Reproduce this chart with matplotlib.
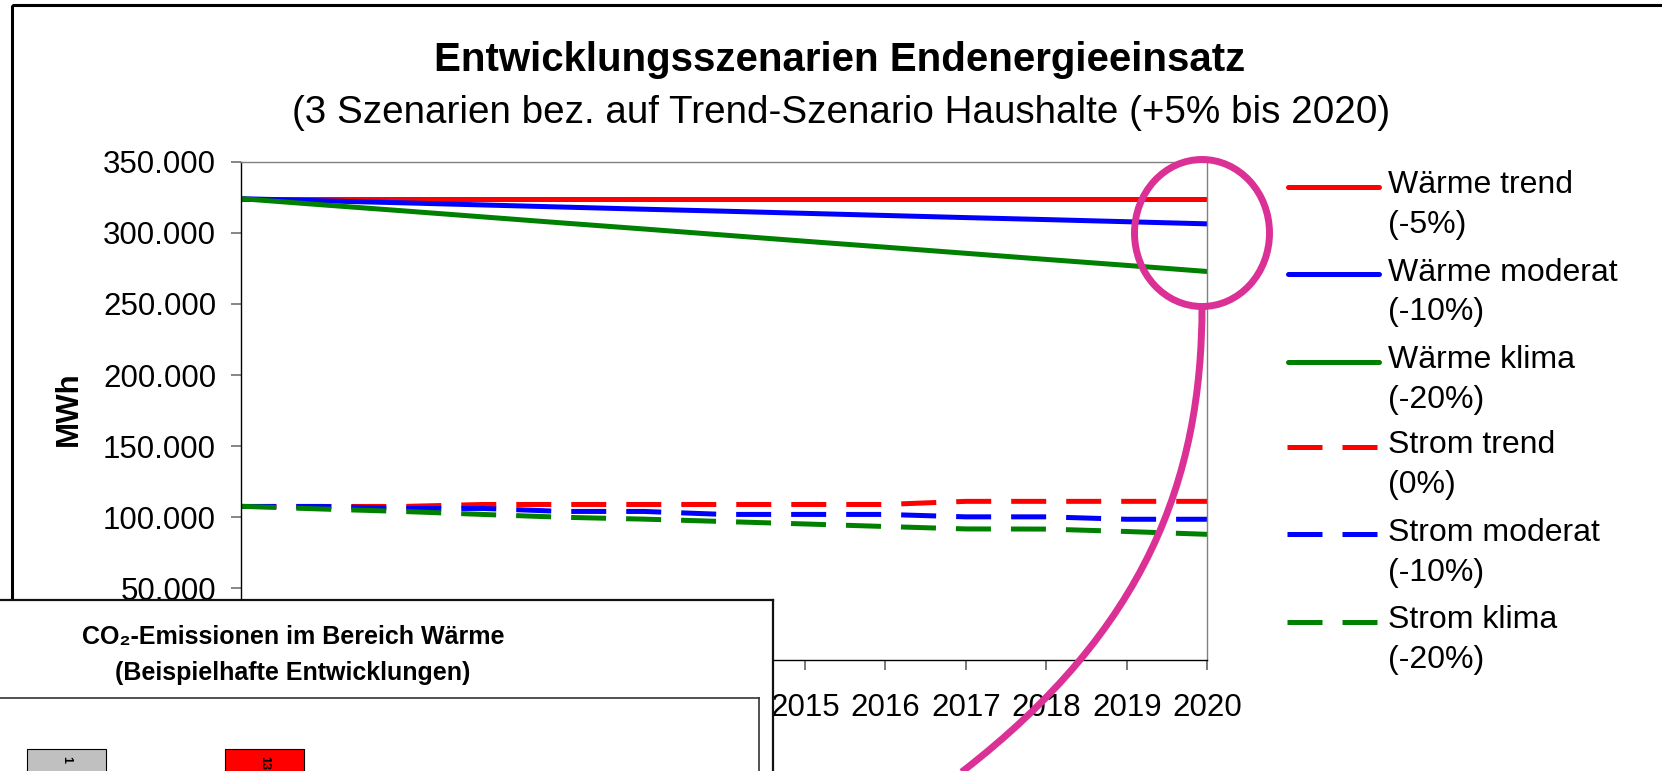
import matplotlib
matplotlib.use("Agg")
import matplotlib.pyplot as plt
from matplotlib.transforms import Affine2D
from matplotlib.patches import Rectangle, Ellipse, PathPatch
from matplotlib.path import Path
from matplotlib.lines import Line2D

plt.rcParams['font.family'] = ['Liberation Sans', 'DejaVu Sans']

# ---------------- data ----------------
years = [2008, 2009, 2010, 2011, 2012, 2013, 2014, 2015, 2016, 2017, 2018, 2019, 2020]
year_labels = [str(y) for y in years]

waerme_trend = [324000, 324000, 324000, 324000, 324000, 324000, 324000,
                324000, 324000, 324000, 324000, 324000, 324000]
waerme_moderat = [324000, 322500, 321100, 319600, 318100, 316600, 315200,
                  313700, 312200, 310700, 309300, 307800, 306300]
waerme_klima = [324000, 319700, 315500, 311200, 306900, 302700, 298400,
                294100, 289900, 285600, 281300, 277100, 272800]
strom_trend = [107600, 107600, 107600, 109000, 109000, 109000, 109000,
               109000, 109000, 111200, 111200, 111200, 111200]
strom_moderat = [107600, 107600, 106200, 106200, 104100, 104100, 102000,
                 102000, 102000, 100300, 100300, 98600, 98600]
strom_klima = [107700, 105800, 104100, 102000, 100000, 98700, 97000,
               95300, 93500, 91800, 91700, 90000, 88000]

series_names = ["Wärme trend", "Wärme moderat", "Wärme klima",
                "Strom trend", "Strom moderat", "Strom klima"]
series_pct = ["(-5%)", "(-10%)", "(-20%)", "(0%)", "(-10%)", "(-20%)"]
series_colors = ["#FF0000", "#0000FF", "#008000", "#FF0000", "#0000FF", "#008000"]
series_dashed = [False, False, False, True, True, True]

ytick_values = [0, 50000, 100000, 150000, 200000, 250000, 300000, 350000]
ytick_labels = ["0", "50.000", "100.000", "150.000", "200.000", "250.000",
                "300.000", "350.000"]

title = "Entwicklungsszenarien Endenergieeinsatz"
subtitle = "(3 Szenarien bez. auf Trend-Szenario Haushalte (+5% bis 2020)"
ylabel = "MWh"

# inset (cropped second chart)
inset_title1 = "CO₂-Emissionen im Bereich Wärme"
inset_title2 = "(Beispielhafte Entwicklungen)"
co2_positions = [0, 1]
co2_values = [74.5, 74.5]
co2_colors = ["#C0C0C0", "#FF0000"]
co2_labels = ["1", "13"]

# ---------------- figure ----------------
W, H = 1662, 771
fig = plt.figure(figsize=(W / 100, H / 100), dpi=100)
fig.patch.set_facecolor("white")
pix = Affine2D().scale(1.0 / W, -1.0 / H).translate(0, 1) + fig.transFigure


def fbox(x0, y0, x1, y1):
    """pixel box (top-left origin) -> figure fraction rect"""
    return [x0 / W, (H - y1) / H, (x1 - x0) / W, (y1 - y0) / H]


# main axes
ax = fig.add_axes(fbox(241.3, 161.7, 1207.3, 659.5), zorder=1)
series = [waerme_trend, waerme_moderat, waerme_klima,
          strom_trend, strom_moderat, strom_klima]
for vals, col, dashed in zip(series, series_colors, series_dashed):
    if dashed:
        ax.plot(years, vals, color=col, lw=3.6, dashes=(7, 4),
                dash_capstyle="butt")
    else:
        ax.plot(years, vals, color=col, lw=3.6, solid_capstyle="round")

ax.set_xlim(years[0], years[-1])
ax.set_ylim(ytick_values[0], ytick_values[-1])
ax.set_xticks(years)
ax.set_xticklabels(year_labels)
ax.set_yticks(ytick_values)
ax.set_yticklabels(ytick_labels)
ax.tick_params(axis="y", direction="out", length=6.9, width=1.1,
               color="#666666", pad=11.3, labelsize=22.5)
ax.tick_params(axis="x", direction="out", length=7.2, width=1.1,
               color="#555555", pad=17.0, labelsize=22.5)
for s in ("left", "bottom"):
    ax.spines[s].set_color("black")
    ax.spines[s].set_linewidth(1.0)
for s in ("top", "right"):
    ax.spines[s].set_color("#808080")
    ax.spines[s].set_linewidth(1.0)
ax.set_ylabel(ylabel, fontsize=22.5, fontweight="bold", va="center",
              ha="center", rotation=90)
ax.yaxis.set_label_coords((68.5 - 241.3) / 966.0, (659.5 - 409.0) / 497.8)

# titles
fig.text(840, 71, title, transform=pix, ha="center", va="baseline",
         fontsize=29, fontweight="bold")
fig.text(841, 123, subtitle, transform=pix, ha="center", va="baseline",
         fontsize=27.8)

# outer chart border
fig.add_artist(Rectangle((11.7, 5), 1700, 900, transform=pix, fill=False,
                         edgecolor="black", lw=2.2, zorder=2))

# legend (manual)
leg_y = [186.6, 273.8, 361.7, 446.6, 534.1, 621.7]
for i in range(6):
    y = leg_y[i]
    if series_dashed[i]:
        ln = Line2D([1287, 1377], [y, y], transform=pix, color=series_colors[i],
                    lw=3.6, dashes=(7, 4), dash_capstyle="butt", zorder=3)
    else:
        ln = Line2D([1288, 1379], [y, y], transform=pix, color=series_colors[i],
                    lw=3.6, solid_capstyle="round", zorder=3)
    fig.add_artist(ln)
    fig.text(1388.5, y + 6.8, series_names[i], transform=pix, ha="left",
             va="baseline", fontsize=23)
    fig.text(1388.5, y + 46.5, series_pct[i], transform=pix, ha="left",
             va="baseline", fontsize=23)

# ---------------- inset (pasted second chart) ----------------
ax_out = fig.add_axes(fbox(-10, 600, 772.7, 950), zorder=5)
ax_out.set_facecolor("white")
ax_out.set_xticks([])
ax_out.set_yticks([])
for s in ("top", "right"):
    ax_out.spines[s].set_linewidth(1.6)
    ax_out.spines[s].set_color("#111111")
ax_out.text(293, 644, inset_title1, transform=pix, ha="center",
            va="baseline", fontsize=18, fontweight="bold")
ax_out.text(293, 680, inset_title2, transform=pix, ha="center",
            va="baseline", fontsize=18, fontweight="bold")

in_x0, in_x1, in_y0, in_y1 = -10, 758.7, 697.7, 900
ax_in = fig.add_axes(fbox(in_x0, in_y0, in_x1, in_y1), zorder=6)
ax_in.set_facecolor("white")
unit = 198.0
ax_in.set_xlim((in_x0 - 66.35) / unit, (in_x1 - 66.35) / unit)
ax_in.set_ylim(0, 100)
ax_in.bar(co2_positions, co2_values, width=0.4, color=co2_colors,
          edgecolor="black", linewidth=0.8)
for p, v, lab in zip(co2_positions, co2_values, co2_labels):
    ax_in.text(p, v - 3.5, lab, ha="center", va="top", rotation=270,
               fontsize=9, fontweight="bold")
ax_in.set_xticks([])
ax_in.set_yticks([])
for s in ("top", "right"):
    ax_in.spines[s].set_linewidth(1.2)
    ax_in.spines[s].set_color("#333333")

# ---------------- magenta highlight ----------------
mag = "#DB3095"
fig.add_artist(Ellipse((1202, 233), 135, 147, transform=pix, fill=False,
                       edgecolor=mag, lw=5.0, zorder=20))
tail = Path([(1202, 306.5), (1202, 480), (1145, 630), (963, 771), (920, 805)],
            [Path.MOVETO, Path.CURVE4, Path.CURVE4, Path.CURVE4, Path.LINETO])
fig.add_artist(PathPatch(tail, transform=pix, fill=False, edgecolor=mag,
                         lw=5.0, zorder=20, capstyle="butt"))

fig.savefig("out.png", dpi=100, facecolor="white")
